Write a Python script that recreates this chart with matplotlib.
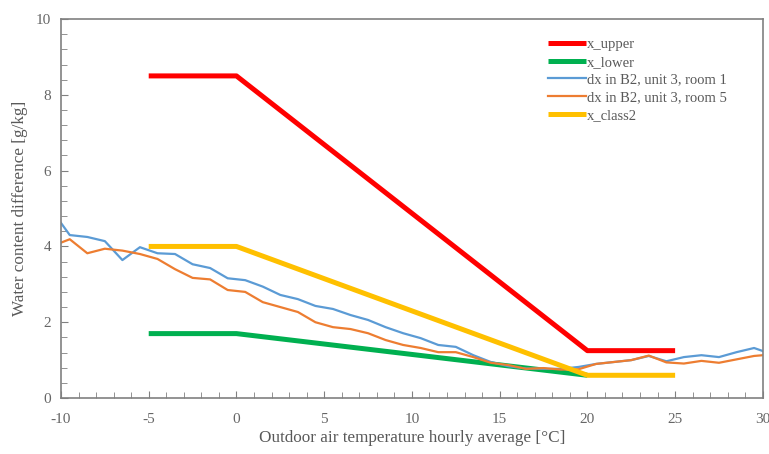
import numpy as np
import matplotlib.pyplot as plt
from matplotlib.ticker import MultipleLocator

# limit curves
upper_x = [-5, 0, 20, 25]
upper_y = [8.5, 8.5, 1.25, 1.25]
lower_x = [-5, 0, 20]
lower_y = [1.7, 1.7, 0.6]
class2_x = [-5, 0, 20, 25]
class2_y = [4.0, 4.0, 0.6, 0.6]

# measured hourly averages
temp = [-10, -9.5, -8.5, -7.5, -6.5, -5.5, -4.5, -3.5, -2.5, -1.5, -0.5,
        0.5, 1.5, 2.5, 3.5, 4.5, 5.5, 6.5, 7.5, 8.5, 9.5, 10.5, 11.5, 12.5,
        13.5, 14.5, 15.5, 16.5, 17.5, 18.5, 19.5, 20.5, 21.5, 22.5, 23.5,
        24.5, 25.5, 26.5, 27.5, 28.5, 29.5, 30]
room1 = [4.62, 4.3, 4.25, 4.14, 3.64, 3.98, 3.82, 3.8, 3.53, 3.43, 3.16,
         3.11, 2.94, 2.72, 2.61, 2.43, 2.35, 2.19, 2.06, 1.87, 1.71, 1.58,
         1.4, 1.35, 1.13, 0.95, 0.84, 0.78, 0.77, 0.77, 0.82, 0.9, 0.95,
         1.0, 1.11, 0.97, 1.08, 1.13, 1.08, 1.21, 1.32, 1.24]
room5 = [4.1, 4.19, 3.82, 3.94, 3.89, 3.8, 3.67, 3.4, 3.17, 3.13, 2.85,
         2.8, 2.53, 2.4, 2.27, 2.0, 1.87, 1.82, 1.71, 1.53, 1.4, 1.32,
         1.21, 1.21, 1.08, 0.93, 0.87, 0.77, 0.79, 0.75, 0.76, 0.9, 0.95,
         1.0, 1.12, 0.94, 0.91, 0.98, 0.93, 1.02, 1.11, 1.13]

grey = '#595959'
plt.rcParams['font.family'] = ['Liberation Serif', 'DejaVu Serif']
plt.rcParams['axes.unicode_minus'] = False

fig = plt.figure(figsize=(7.69, 4.54), dpi=100)
ax = fig.add_axes([0.0793, 0.1233, 0.9127, 0.8347])

ax.plot(upper_x, upper_y, color='#ff0000', lw=3.6, label='x_upper', solid_capstyle='butt')
ax.plot(lower_x, lower_y, color='#00b050', lw=3.6, label='x_lower', solid_capstyle='butt')
ax.plot(temp, room1, color='#5b9bd5', lw=1.6, label='dx in B2, unit 3, room 1')
ax.plot(temp, room5, color='#ed7d31', lw=1.6, label='dx in B2, unit 3, room 5')
ax.plot(class2_x, class2_y, color='#ffc000', lw=3.6, label='x_class2', solid_capstyle='butt')

ax.set_xlim(-10, 30)
ax.set_ylim(0, 10)
ax.xaxis.set_major_locator(MultipleLocator(5))
ax.xaxis.set_minor_locator(MultipleLocator(1))
ax.yaxis.set_major_locator(MultipleLocator(2))
ax.yaxis.set_minor_locator(MultipleLocator(0.4))
ax.tick_params(which='both', direction='in', color='#808080', labelcolor='#666666',
               labelsize=11)
ax.tick_params(which='major', length=5)
ax.tick_params(which='minor', length=4)
ax.tick_params(axis='x', pad=11)
ax.tick_params(axis='y', pad=7)
for s in ax.spines.values():
    s.set_color('#808080')
    s.set_linewidth(1.2)

ax.set_xlabel('Outdoor air temperature hourly average [°C]', fontsize=12.3, color=grey, labelpad=3)
ax.set_ylabel('Water content difference [g/kg]', fontsize=12.3, color=grey, labelpad=6)

ax.legend(loc='upper left', bbox_to_anchor=(0.685, 0.965), frameon=False,
          fontsize=10.5, handlelength=2.6, handletextpad=0.1, labelspacing=0.3,
          labelcolor=grey, borderaxespad=0)

fig.savefig('out.png', dpi=100)
